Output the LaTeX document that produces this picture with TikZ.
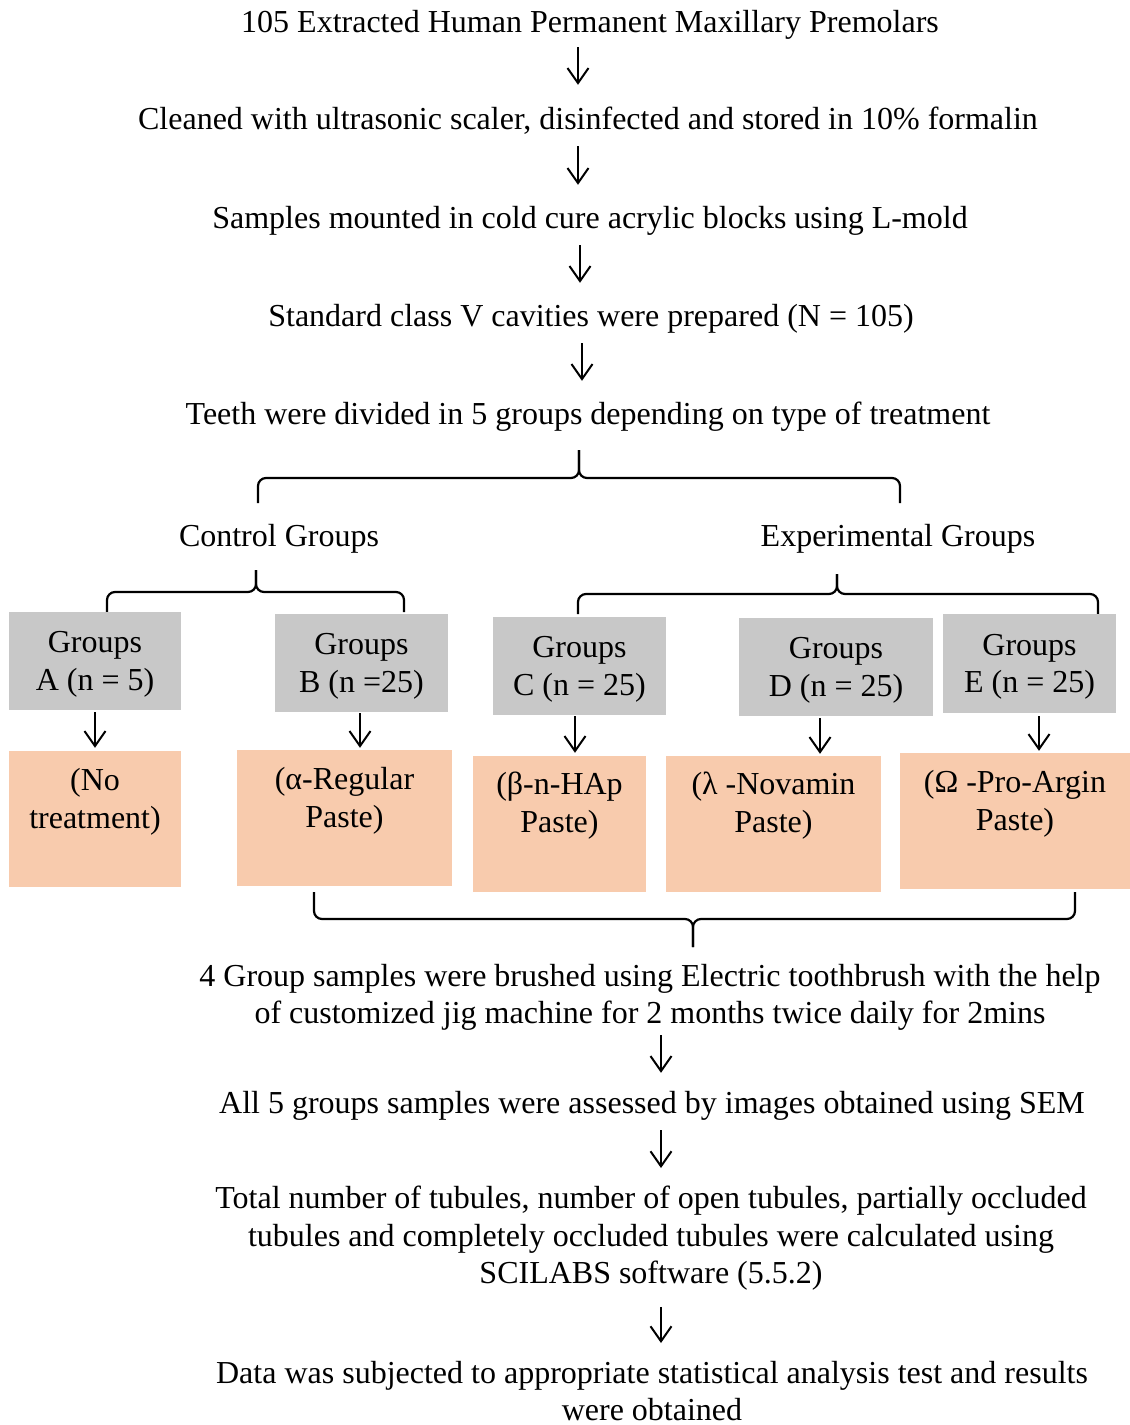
\documentclass[tikz,border=0pt]{standalone}
\usepackage{fontspec}
\setmainfont{Liberation Serif}
\usetikzlibrary{arrows.meta}
\definecolor{boxgray}{RGB}{200,200,200}
\definecolor{boxorange}{RGB}{248,203,173}
\newcommand{\toppad}{\rule{0pt}{27.5pt}}
\begin{document}
\begin{tikzpicture}[x=1pt,y=-1pt,
  txt/.style={inner sep=0pt, font=\fontsize{32}{37.5}\selectfont, align=center},
  oneline/.style={txt, anchor=base, text height=24pt, text depth=8pt},
  multi/.style={txt, anchor=north},
  arr/.style={line width=2pt, -{Straight Barb[length=15pt,width=21pt,line width=2pt]}},
  brace/.style={line width=2.2pt, rounded corners=8pt},
  gbox/.style={fill=boxgray, inner sep=0pt, txt},
  obox/.style={fill=boxorange, inner sep=0pt}]
\useasboundingbox (0,0) rectangle (1130,1425);

% main chain
\node[oneline] (t1) at (590,32) {105 Extracted Human Permanent Maxillary Premolars};
\node[oneline] (t2) at (588,129) {Cleaned with ultrasonic scaler, disinfected and stored in 10\% formalin};
\node[oneline] (t3) at (590,228) {Samples mounted in cold cure acrylic blocks using L-mold};
\node[oneline] (t4) at (591,326) {Standard class V cavities were prepared (N = 105)};
\node[oneline] (t5) at (588,424) {Teeth were divided in 5 groups depending on type of treatment};

\coordinate (ax1) at (578,0);
\coordinate (ax2) at (578,0);
\coordinate (ax3) at (580,0);
\coordinate (ax4) at (582,0);
\draw[arr, shorten <=7pt, shorten >=20pt] (t1.south -| ax1) -- (t2.north -| ax1);
\draw[arr, shorten <=9pt, shorten >=19pt] (t2.south -| ax2) -- (t3.north -| ax2);
\draw[arr, shorten <=9pt, shorten >=19pt] (t3.south -| ax3) -- (t4.north -| ax3);
\draw[arr, shorten <=9pt, shorten >=19pt] (t4.south -| ax4) -- (t5.north -| ax4);

% top brace
\draw[brace] (258,503) -- (258,478) -- (579,478) -- (579,450);
\draw[brace] (579,450) -- (579,478) -- (900,478) -- (900,503);

\node[oneline] (ctrl) at (279,546) {Control Groups};
\node[oneline] (expg) at (898,546) {Experimental Groups};

% control and experimental braces
\draw[brace] (107,612) -- (107,592) -- (256,592) -- (256,570);
\draw[brace] (256,570) -- (256,592) -- (404,592) -- (404,612);
\draw[brace] (578,614) -- (578,594) -- (837,594) -- (837,574);
\draw[brace] (837,574) -- (837,594) -- (1098,594) -- (1098,614);

% gray boxes
\node[gbox, minimum width=172pt, minimum height=98pt] (gA) at (95,661) {\toppad Groups\\A (n = 5)};
\node[gbox, minimum width=173pt, minimum height=98pt] (gB) at (361.5,663) {\toppad Groups\\B (n =25)};
\node[gbox, minimum width=173pt, minimum height=98pt] (gC) at (579.5,666) {\toppad Groups\\C (n = 25)};
\node[gbox, minimum width=194pt, minimum height=98pt] (gD) at (836,667) {\toppad Groups\\D (n = 25)};
\node[gbox, minimum width=173pt, minimum height=99pt] (gE) at (1029.5,663.5) {\toppad Groups\\E (n = 25)};

% orange boxes
\node[obox, minimum width=172pt, minimum height=136pt] (oA) at (95,819) {};
\node[obox, minimum width=215pt, minimum height=136pt] (oB) at (344.5,818) {};
\node[obox, minimum width=173pt, minimum height=136pt] (oC) at (559.5,824) {};
\node[obox, minimum width=215pt, minimum height=136pt] (oD) at (773.5,824) {};
\node[obox, minimum width=230pt, minimum height=136pt] (oE) at (1015,821) {};

\node[txt, anchor=base] (oAt) at ([yshift=-77.5pt]oA.north) {(No\\treatment)};
\node[txt, anchor=base] (oBt) at ([yshift=-77.5pt]oB.north) {(α-Regular\\Paste)};
\node[txt, anchor=base] (oCt) at ([yshift=-76.5pt]oC.north) {(β-n-HAp\\Paste)};
\node[txt, anchor=base] (oDt) at ([yshift=-76.5pt]oD.north) {(λ -Novamin\\Paste)};
\node[txt, anchor=base] (oEt) at ([yshift=-77.5pt]oE.north) {(Ω -Pro-Argin\\Paste)};

\coordinate (cA) at (95,0);
\coordinate (cB) at (360,0);
\coordinate (cC) at (575,0);
\coordinate (cD) at (820,0);
\coordinate (cE) at (1039,0);
\draw[arr, shorten <=2pt, shorten >=3pt] (gA.south -| cA) -- (oA.north -| cA);
\draw[arr, shorten <=1pt, shorten >=2pt] (gB.south -| cB) -- (oB.north -| cB);
\draw[arr, shorten <=1pt, shorten >=3pt] (gC.south -| cC) -- (oC.north -| cC);
\draw[arr, shorten <=2pt, shorten >=2pt] (gD.south -| cD) -- (oD.north -| cD);
\draw[arr, shorten <=3pt, shorten >=2pt] (gE.south -| cE) -- (oE.north -| cE);

% bottom brace
\draw[brace] (314,892) -- (314,919) -- (693,919) -- (693,947);
\draw[brace] (693,947) -- (693,919) -- (1075,919) -- (1075,892);

% lower chain
\node[multi] (t6) at (650,964) {4 Group samples were brushed using Electric toothbrush with the help\\of customized jig machine for 2 months twice daily for 2mins};
\node[oneline] (t7) at (652,1113) {All 5 groups samples were assessed by images obtained using SEM};
\node[multi] (t8) at (651,1186) {Total number of tubules, number of open tubules, partially occluded\\tubules and completely occluded tubules were calculated using\\SCILABS software (5.5.2)};
\node[multi] (t9) at (652,1361) {Data was subjected to appropriate statistical analysis test and results\\were obtained};

\coordinate (ax5) at (661,0);
\draw[arr, shorten <=4pt, shorten >=16pt] (t6.south -| ax5) -- (t7.north -| ax5);
\draw[arr, shorten <=9pt, shorten >=18pt] (t7.south -| ax5) -- (t8.north -| ax5);
\draw[arr, shorten <=16pt, shorten >=18pt] (t8.south -| ax5) -- (t9.north -| ax5);
\end{tikzpicture}
\end{document}
